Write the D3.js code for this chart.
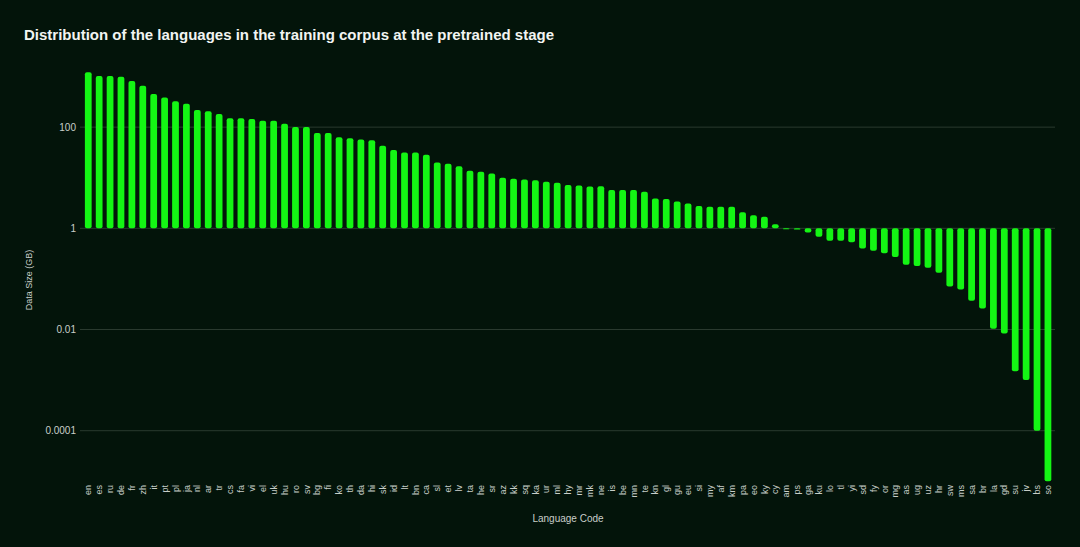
<!DOCTYPE html>
<html>
<head>
<meta charset="utf-8">
<script src="https://cdn.jsdelivr.net/npm/d3@7"></script>
<style>
  body { margin: 0; background: #03140a; }
  text { font-family: "Liberation Sans", Arial, sans-serif; }
</style>
</head>
<body>
<div id="chart"></div>
<script>
const languages = ['en', 'es', 'ru', 'de', 'fr', 'zh', 'it', 'pt', 'pl', 'ja', 'nl', 'ar', 'tr', 'cs', 'fa',
  'vi', 'el', 'uk', 'hu', 'ro', 'sv', 'bg', 'fi', 'ko', 'th', 'da', 'hi', 'sk', 'id', 'lt', 'bn', 'ca', 'sl',
  'et', 'lv', 'ta', 'he', 'sr', 'az', 'kk', 'sq', 'ka', 'ur', 'ml', 'hy', 'mr', 'mk', 'ne', 'is', 'be', 'mn',
  'te', 'kn', 'gl', 'gu', 'eu', 'si', 'my', 'af', 'km', 'pa', 'eo', 'ky', 'cy', 'am', 'ps', 'ga', 'ku', 'lo',
  'tl', 'yi', 'sd', 'fy', 'or', 'mg', 'as', 'ug', 'uz', 'hr', 'sw', 'ms', 'sa', 'br', 'la', 'gd', 'su', 'jv',
  'bs', 'so'];

// data size in GB
const dataSizes = [1210, 1020, 1020, 990, 815, 657, 450, 387, 323, 289, 217, 207, 181, 149, 149,
  144, 133, 133, 116, 101, 101, 77, 77, 63, 60, 57, 55, 43, 35.5, 31.4, 31.4, 28.3, 19.9,
  18.8, 16.9, 13.8, 13.2, 12.1, 10.0, 9.6, 9.2, 8.9, 8.3, 8.0, 7.2, 7.0, 6.7, 6.8, 5.7, 5.7, 5.7,
  5.3, 3.9, 3.8, 3.4, 3.1, 2.76, 2.67, 2.67, 2.67, 2.07, 1.81, 1.70, 1.20, 0.96, 0.95, 0.83, 0.68, 0.57,
  0.57, 0.53, 0.40, 0.36, 0.32, 0.27, 0.19, 0.18, 0.166, 0.133, 0.071, 0.062, 0.037, 0.026, 0.0104, 0.0083, 0.0015, 0.001,
  0.0001, 0.00001];

const yTicks = [0.0001, 0.01, 1, 100];
const yTickLabels = ['0.0001', '0.01', '1', '100'];

const width = 1080;
const height = 547;

const svg = d3.select('#chart').
  append('svg').
  attr('width', width).
  attr('height', height);

svg.append('rect').
  attr('width', width).
  attr('height', height).
  attr('fill', '#03140a');

const xScale = d3.scaleBand().
  domain(languages).
  range([82.7, 1053.5]).
  paddingInner(0.38).
  paddingOuter(0.2);

const yScale = d3.scaleLog().
  domain([1e-5, Math.pow(10, 3.4)]).
  range([481.3, 56.3]);

// grid lines + tick labels
const grid = svg.append('g');
grid.selectAll('line').
  data(yTicks).
  enter().
  append('line').
  attr('x1', 80).
  attr('x2', 1055).
  attr('y1', d => yScale(d)).
  attr('y2', d => yScale(d)).
  attr('stroke', '#2a3a2f').
  attr('stroke-width', 1);

grid.selectAll('text').
  data(yTicks).
  enter().
  append('text').
  attr('x', 76).
  attr('y', d => yScale(d)).
  attr('dy', '0.35em').
  attr('text-anchor', 'end').
  attr('font-size', 10).
  attr('fill', '#c8cec9').
  text((d, i) => yTickLabels[i]);

// bars grow from 1 GB up or down
svg.append('g').
  selectAll('rect').
  data(languages).
  enter().
  append('rect').
  attr('x', d => xScale(d)).
  attr('width', xScale.bandwidth()).
  attr('y', (d, i) => Math.min(yScale(dataSizes[i]), yScale(1))).
  attr('height', (d, i) => Math.max(Math.abs(yScale(dataSizes[i]) - yScale(1)), 1)).
  attr('rx', 2).
  attr('fill', '#14f514');

// x labels, rotated
svg.append('g').
  selectAll('text').
  data(languages).
  enter().
  append('text').
  attr('transform', d => 'translate(' + (xScale(d) + xScale.bandwidth() / 2) + ', 485) rotate(-90)').
  attr('dy', '0.35em').
  attr('text-anchor', 'end').
  attr('font-size', 9).
  attr('fill', '#c8cec9').
  text(d => d);

svg.append('text').
  attr('x', 24).
  attr('y', 40).
  attr('font-size', 15).
  attr('font-weight', 'bold').
  attr('fill', '#f2f4f2').
  text('Distribution of the languages in the training corpus at the pretrained stage');

svg.append('text').
  attr('transform', 'translate(32, 280) rotate(-90)').
  attr('text-anchor', 'middle').
  attr('font-size', 9).
  attr('fill', '#c8cec9').
  text('Data Size (GB)');

svg.append('text').
  attr('x', 568).
  attr('y', 522).
  attr('text-anchor', 'middle').
  attr('font-size', 10).
  attr('fill', '#c8cec9').
  text('Language Code');
</script>
</body>
</html>
